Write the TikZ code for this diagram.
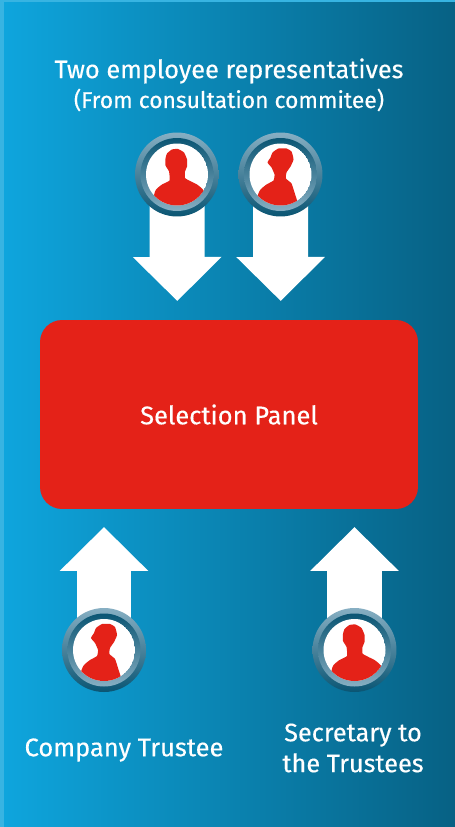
\documentclass[tikz,border=0pt]{standalone}
\usepackage{fontspec}
\setmainfont[FakeBold=0.35]{Fira Sans}
\usetikzlibrary{arrows.meta}

\pgfdeclarelayer{back}
\pgfsetlayers{back,main}

\definecolor{panelred}{RGB}{228,34,24}
\definecolor{bgleft}{RGB}{14,165,221}
\definecolor{bgmid}{RGB}{10,134,182}
\definecolor{bgright}{RGB}{7,97,132}
\definecolor{edgeblue}{RGB}{55,180,226}
\definecolor{ringlight}{RGB}{135,175,195}
\definecolor{ringdark}{RGB}{10,85,115}

\tikzset{
  bigarrow/.style={white, line width=1.1cm, line cap=butt, -{Triangle[width=1.72cm,length=0.88cm]}},
  badge/.style={circle, minimum size=1.68cm, inner sep=0pt, top color=ringlight, bottom color=ringdark},
  innerring/.style={circle, minimum size=1.46cm, inner sep=0pt, top color=ringdark, bottom color=ringlight},
  label/.style={text=white, align=center, inner sep=0pt},
  frontperson/.pic={
    \clip (0,0) circle [radius=0.62cm];
    \fill[white] (0,0) circle [radius=0.62cm];
    \fill[panelred] plot[smooth cycle, tension=0.3] coordinates {(-23,21) (-21,15) (-15,10) (-7.5,6) (-8,-3) (-11.5,-9) (-11.5,-16) (-10,-21) (-5,-25) (1,-25.5) (7,-22) (10,-15) (10,-8) (8,-3) (8,3.5) (14,7) (20,10) (25,14) (28,19) (28,40) (-23,40)};
  },
  sideperson/.pic={
    \clip (0,0) circle [radius=0.62cm];
    \fill[white] (0,0) circle [radius=0.62cm];
    \fill[panelred] plot[smooth cycle, tension=0.3] coordinates {(-23,22) (-20,15) (-14,10) (-7,6) (-6,0) (-9,-7) (-13,-12) (-10,-17) (-8,-22) (-2,-26) (6,-26) (11,-23) (13,-15) (10,-8) (6,-2) (5.5,4) (11,9) (14,18) (17,28) (17,40) (-23,40)};
  },
}

\begin{document}
\begin{tikzpicture}[x=0.02cm, y=-0.02cm, line join=round]
        \useasboundingbox (0,0) rectangle (455,827);

        \begin{pgfonlayer}{back}
            \fill[edgeblue] (0,0) rectangle (455,827);
            \shade[left color=bgleft, middle color=bgmid, right color=bgright] (4,3) rectangle (455,827);
        \end{pgfonlayer}

        \node[label, font=\fontsize{14.4}{17}\selectfont] (title) at (229,71) {Two employee representatives};
        \node[label, font=\fontsize{13}{15}\selectfont] (subtitle) at (229,100) {(From consultation commitee)};

        \node[rectangle, fill=panelred, rounded corners=0.44cm, minimum width=7.56cm, minimum height=3.78cm, text=white, font=\fontsize{14.5}{17}\selectfont] (panel) at (229,414.5) {Selection Panel};

        % the four people
        \node[badge] (repa) at (177,174.5) {};
        \node[innerring] at (repa) {};
        \pic at (repa) {frontperson};
        \node[badge] (repb) at (280.5,174.5) {};
        \node[innerring] at (repb) {};
        \pic at (repb) {sideperson};
        \node[badge] (company) at (104,650) {};
        \node[innerring] at (company) {};
        \pic at (company) {sideperson};
        \node[badge] (secretary) at (354.5,650) {};
        \node[innerring] at (secretary) {};
        \pic at (secretary) {frontperson};

        % arrows go under the rings
        \coordinate (tipa) at (177.3,301);
        \coordinate (tipb) at (280.7,301);
        \coordinate (tipc) at (104,527);
        \coordinate (tipd) at (354.5,527);
        \begin{pgfonlayer}{back}
            \foreach \from/\to in {repa/tipa, repb/tipb, company/tipc, secretary/tipd}
                \draw[bigarrow] (\from.center) -- (\to);
        \end{pgfonlayer}

        \node[label, font=\fontsize{14.5}{17}\selectfont] (companylabel) at (124,750) {Company Trustee};
        \node[label, font=\fontsize{14.4}{17.6}\selectfont] (secretarylabel) at (353,748) {Secretary to\\the Trustees};
    \end{tikzpicture}
\end{document}
